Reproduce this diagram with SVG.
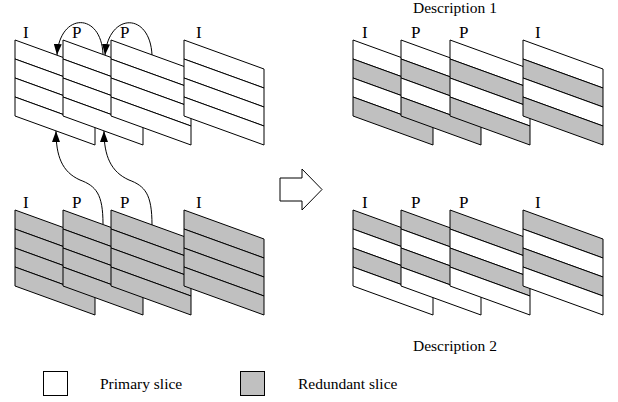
<svg xmlns="http://www.w3.org/2000/svg" xmlns:xlink="http://www.w3.org/1999/xlink" width="618" height="402" viewBox="0 0 618 402">
<style>
.w{fill:#fff;stroke:#000;stroke-width:1}
.g{fill:#c0c0c0;stroke:#000;stroke-width:1}
.lbl{font-family:"Liberation Serif","Times New Roman",serif;font-size:17px;fill:#000}
.txt{font-family:"Liberation Serif","Times New Roman",serif;font-size:15.5px;fill:#000}
.con{fill:none;stroke:#000;stroke-width:1}
</style>
<defs>
<polygon id="s0" points="0,0 80,29 80,48 0,19"/>
<polygon id="s1" points="0,19 80,48 80,67 0,38"/>
<polygon id="s2" points="0,38 80,67 80,86 0,57"/>
<polygon id="s3" points="0,57 80,86 80,105 0,76"/>
<marker id="ah" markerWidth="11" markerHeight="8" refX="11" refY="4" orient="auto" markerUnits="userSpaceOnUse">
<path d="M0,0 L11,4 L0,8 z" fill="#000"/>
</marker>
</defs>
<rect width="618" height="402" fill="#fff"/>

<!-- Original: top row (primary) -->
<g id="orig-p-f1" transform="translate(15,40)"><use xlink:href="#s0" class="w"/><use xlink:href="#s1" class="w"/><use xlink:href="#s2" class="w"/><use xlink:href="#s3" class="w"/></g>
<g id="orig-p-f2" transform="translate(63,40)"><use xlink:href="#s0" class="w"/><use xlink:href="#s1" class="w"/><use xlink:href="#s2" class="w"/><use xlink:href="#s3" class="w"/></g>
<g id="orig-p-f3" transform="translate(111,40)"><use xlink:href="#s0" class="w"/><use xlink:href="#s1" class="w"/><use xlink:href="#s2" class="w"/><use xlink:href="#s3" class="w"/></g>
<g id="orig-p-f4" transform="translate(184,40)"><use xlink:href="#s0" class="w"/><use xlink:href="#s1" class="w"/><use xlink:href="#s2" class="w"/><use xlink:href="#s3" class="w"/></g>
<g id="orig-p-labels">
<text class="lbl" x="23" y="38">I</text>
<text class="lbl" x="72" y="38">P</text>
<text class="lbl" x="120" y="38">P</text>
<text class="lbl" x="196" y="38">I</text>
</g>

<!-- Original: bottom row (redundant) -->
<g id="orig-r-f1" transform="translate(15,210)"><use xlink:href="#s0" class="g"/><use xlink:href="#s1" class="g"/><use xlink:href="#s2" class="g"/><use xlink:href="#s3" class="g"/></g>
<g id="orig-r-f2" transform="translate(63,210)"><use xlink:href="#s0" class="g"/><use xlink:href="#s1" class="g"/><use xlink:href="#s2" class="g"/><use xlink:href="#s3" class="g"/></g>
<g id="orig-r-f3" transform="translate(111,210)"><use xlink:href="#s0" class="g"/><use xlink:href="#s1" class="g"/><use xlink:href="#s2" class="g"/><use xlink:href="#s3" class="g"/></g>
<g id="orig-r-f4" transform="translate(184,210)"><use xlink:href="#s0" class="g"/><use xlink:href="#s1" class="g"/><use xlink:href="#s2" class="g"/><use xlink:href="#s3" class="g"/></g>
<g id="orig-r-labels">
<text class="lbl" x="23" y="208">I</text>
<text class="lbl" x="72" y="208">P</text>
<text class="lbl" x="120" y="208">P</text>
<text class="lbl" x="196" y="208">I</text>
</g>

<!-- Description 1 -->
<text id="desc1-title" class="txt" x="413" y="13">Description 1</text>
<g id="d1-f1" transform="translate(353,40)"><use xlink:href="#s0" class="w"/><use xlink:href="#s1" class="g"/><use xlink:href="#s2" class="w"/><use xlink:href="#s3" class="g"/></g>
<g id="d1-f2" transform="translate(401,40)"><use xlink:href="#s0" class="w"/><use xlink:href="#s1" class="g"/><use xlink:href="#s2" class="w"/><use xlink:href="#s3" class="g"/></g>
<g id="d1-f3" transform="translate(450,40)"><use xlink:href="#s0" class="w"/><use xlink:href="#s1" class="g"/><use xlink:href="#s2" class="w"/><use xlink:href="#s3" class="g"/></g>
<g id="d1-f4" transform="translate(523,40)"><use xlink:href="#s0" class="w"/><use xlink:href="#s1" class="g"/><use xlink:href="#s2" class="w"/><use xlink:href="#s3" class="g"/></g>
<g id="d1-labels">
<text class="lbl" x="362" y="38">I</text>
<text class="lbl" x="411" y="38">P</text>
<text class="lbl" x="459" y="38">P</text>
<text class="lbl" x="535" y="38">I</text>
</g>

<!-- Description 2 -->
<g id="d2-f1" transform="translate(353,210)"><use xlink:href="#s0" class="g"/><use xlink:href="#s1" class="w"/><use xlink:href="#s2" class="g"/><use xlink:href="#s3" class="w"/></g>
<g id="d2-f2" transform="translate(401,210)"><use xlink:href="#s0" class="g"/><use xlink:href="#s1" class="w"/><use xlink:href="#s2" class="g"/><use xlink:href="#s3" class="w"/></g>
<g id="d2-f3" transform="translate(450,210)"><use xlink:href="#s0" class="g"/><use xlink:href="#s1" class="w"/><use xlink:href="#s2" class="g"/><use xlink:href="#s3" class="w"/></g>
<g id="d2-f4" transform="translate(523,210)"><use xlink:href="#s0" class="g"/><use xlink:href="#s1" class="w"/><use xlink:href="#s2" class="g"/><use xlink:href="#s3" class="w"/></g>
<g id="d2-labels">
<text class="lbl" x="362" y="208">I</text>
<text class="lbl" x="411" y="208">P</text>
<text class="lbl" x="459" y="208">P</text>
<text class="lbl" x="535" y="208">I</text>
</g>
<text id="desc2-title" class="txt" x="413" y="351">Description 2</text>

<!-- Big hollow arrow -->
<g id="split-arrow">
<polygon points="280,178 302,178 302,169 322,189.5 302,210 302,201 280,201" fill="#fff" stroke="#000" stroke-width="1"/>
</g>

<!-- Connectors -->
<g id="connectors">
<path class="con" d="M103,54 C101,12 60,12 57,55" marker-end="url(#ah)"/>
<path class="con" d="M152,55 C150,12 109,12 105,55" marker-end="url(#ah)"/>
<path class="con" d="M103,224 C103,194 96,186 80,180 C62,172 56,156 56,131" marker-end="url(#ah)"/>
<path class="con" d="M152,225 C152,194 145,186 129,180 C111,172 104,156 104,131" marker-end="url(#ah)"/>
</g>

<!-- Legend -->
<g id="legend-primary">
<rect x="43.5" y="371.5" width="24" height="24" class="w"/>
<text class="txt" x="100" y="389">Primary slice</text>
</g>
<g id="legend-redundant">
<rect x="240.5" y="371.5" width="24" height="24" class="g"/>
<text class="txt" x="298" y="389">Redundant slice</text>
</g>
</svg>
